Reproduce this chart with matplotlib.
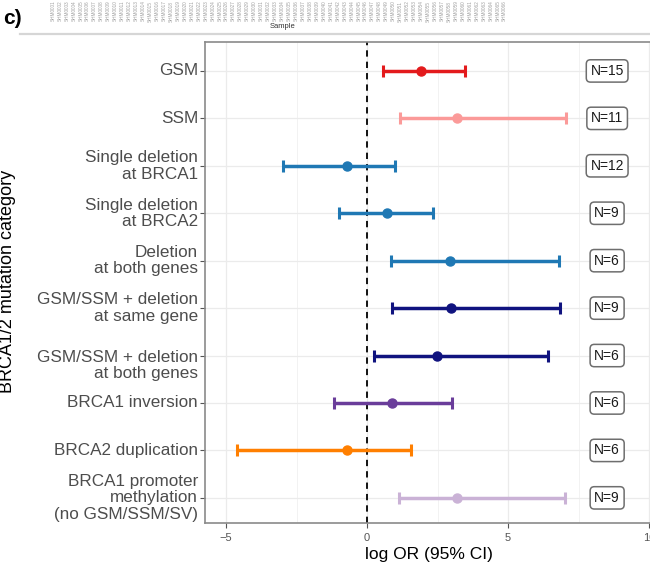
import matplotlib
matplotlib.use("Agg")
import matplotlib.pyplot as plt
from matplotlib.lines import Line2D
from matplotlib.transforms import blended_transform_factory, offset_copy

plt.rcParams['font.family'] = ['Liberation Sans', 'DejaVu Sans']

categories = [
    "GSM",
    "SSM",
    "Single deletion\nat BRCA1",
    "Single deletion\nat BRCA2",
    "Deletion\nat both genes",
    "GSM/SSM + deletion\nat same gene",
    "GSM/SSM + deletion\nat both genes",
    "BRCA1 inversion",
    "BRCA2 duplication",
    "BRCA1 promoter\nmethylation\n(no GSM/SSM/SV)",
]
log_or = [1.91, 3.19, -0.71, 0.71, 2.94, 2.98, 2.48, 0.89, -0.71, 3.19]
ci_low = [0.57, 1.17, -2.98, -0.99, 0.85, 0.89, 0.25, -1.17, -4.61, 1.13]
ci_high = [3.48, 7.06, 0.99, 2.34, 6.81, 6.84, 6.42, 3.01, 1.56, 7.02]
n_labels = ["N=15", "N=11", "N=12", "N=9", "N=6", "N=9", "N=6", "N=6", "N=6", "N=9"]
colors = ["#E31A1C", "#FB9A99", "#1F78B4", "#1F78B4", "#1F78B4",
          "#10137F", "#10137F", "#6A3D9A", "#FF7F00", "#CAB2D6"]
x_ticks = [-5, 0, 5, 10]
sample_ids = ["SHM%04d" % i for i in range(1, 67)]

W, H = 650, 563
fig = plt.figure(figsize=(W / 100, H / 100), dpi=100)

# top strip: sample labels
for i, s in enumerate(sample_ids):
    xp = (53 + i * 6.95) / W
    fig.text(xp, 1 - 0.5 / H, s, rotation=90, fontsize=3.4, color="#a0a0a0",
             ha="center", va="top")
fig.text(283 / W, 1 - 26 / H, "Sample", fontsize=5.5, color="#333333",
         ha="center", va="center")
fig.add_artist(Line2D([20 / W, 1.0], [1 - 33.5 / H, 1 - 33.5 / H],
                      color="#d6d6d6", lw=1.6, transform=fig.transFigure))
fig.text(3 / W, 1 - 18 / H, "c)", fontsize=15, fontweight="bold",
         ha="left", va="center")

left, right, top, bottom = 205, 652, 42, 523
ax = fig.add_axes([left / W, 1 - bottom / H, (right - left) / W, (bottom - top) / H])
ax.set_facecolor("white")
ypos = list(range(len(categories)))

for y, m, lo, hi, c, n in zip(ypos, log_or, ci_low, ci_high, colors, n_labels):
    ax.errorbar(m, y, xerr=[[m - lo], [hi - m]], fmt="o", color=c, ecolor=c,
                elinewidth=2.5, capsize=4, capthick=2.2, markersize=6.5, zorder=3)
    ax.text(8.51, y, n, fontsize=10, ha="center", va="center", color="#1a1a1a",
            bbox=dict(boxstyle="round,pad=0.3,rounding_size=0.3",
                      fc="white", ec="#6e6e6e", lw=1.1), zorder=4)

ax.axvline(0, color="black", ls=(0, (3.5, 2.8)), lw=1.3, zorder=2)
ax.set_xlim(-5.745, 10.1)
ax.set_ylim(9.53, -0.61)
ax.set_xticks(x_ticks)
ax.set_xticks([-2.5, 2.5, 7.5], minor=True)
ax.set_yticks(ypos)
ax.set_yticklabels([""] * len(ypos))

# y category labels drawn as text so each can be placed like the reference
trans = blended_transform_factory(ax.transAxes, ax.transData)
label_shift = [0, 0, 0, 0, 0, 0, -10, 0, 0, 0]
for y, lab, sh in zip(ypos, categories, label_shift):
    t = offset_copy(trans, fig=fig, x=-7, y=sh, units="dots")
    ax.text(0, y, lab, transform=t, ha="right", va="center", fontsize=12.3,
            color="#4D4D4D", linespacing=1.12, multialignment="right")

ax.tick_params(axis="x", labelsize=8, colors="#555555", length=3.5, color="#555555")
ax.tick_params(axis="y", length=3.5, color="#555555")
ax.tick_params(axis="x", which="minor", length=0)
ax.grid(True, which="major", color="#EBEBEB", lw=0.9)
ax.grid(True, which="minor", color="#F0F0F0", lw=0.6)
ax.set_axisbelow(True)
for sp in ax.spines.values():
    sp.set_color("#8a8a8a")
    sp.set_linewidth(1.2)
ax.set_xlabel("log OR (95% CI)", fontsize=12.5, labelpad=3)
fig.text(8 / W, 1 - 281 / H, "BRCA1/2 mutation category", rotation=90,
         fontsize=13, ha="center", va="center")

fig.savefig("out.png", dpi=100)
